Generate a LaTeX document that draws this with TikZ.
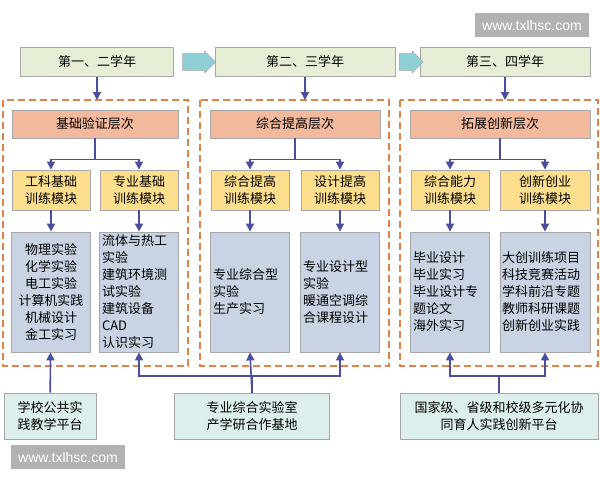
\documentclass[tikz,border=0pt]{standalone}
\usepackage{fontspec}
\setmainfont{Noto Sans CJK SC}
\setsansfont{Liberation Sans}
\usetikzlibrary{arrows.meta,shapes.arrows}
\definecolor{yearfill}{HTML}{E6EED6}
\definecolor{levelfill}{HTML}{F3B99C}
\definecolor{modfill}{HTML}{FCDE8C}
\definecolor{contfill}{HTML}{C9D3E3}
\definecolor{platfill}{HTML}{DCEFEC}
\definecolor{dashcol}{HTML}{E0824A}
\definecolor{arrcol}{HTML}{4A4E9C}
\definecolor{bluearr}{HTML}{8FD0D6}
\tikzset{
  box/.style={draw=gray!70, line width=0.8pt, inner sep=2pt, font=\fontsize{13}{17}\selectfont},
  year/.style={box, fill=yearfill, minimum width=153pt, minimum height=29pt},
  level/.style={box, fill=levelfill, minimum width=166pt, minimum height=28pt},
  module/.style={box, fill=modfill, minimum width=78pt, minimum height=40pt, align=center},
  content/.style={box, fill=contfill, minimum width=79pt, minimum height=120pt, text width=74pt, align=left},
  platform/.style={box, fill=platfill, minimum height=46pt, align=center},
  zone/.style={draw=dashcol, line width=1.5pt, dash pattern=on 7pt off 4pt},
  link/.style={draw=arrcol, line width=1.6pt, -{Triangle[length=8pt,width=8pt]}},
  wire/.style={draw=arrcol, line width=1.6pt},
  wmark/.style={fill=gray!60, text=white, font=\sffamily\fontsize{14}{16}\selectfont, inner sep=7pt}
}
\begin{document}
\begin{tikzpicture}[x=1pt, y=-1pt]
\useasboundingbox (0,0) rectangle (600,480);
% years
\node[year] (y1) at (97,62) {第一、二学年};
\node[year, minimum width=180pt] (y2) at (305,62) {第二、三学年};
\node[year, minimum width=170pt] (y3) at (505,62) {第三、四学年};
\node[single arrow, draw=gray!70, fill=bluearr, minimum height=33pt, minimum width=22pt,
      single arrow head extend=1pt, inner sep=3pt] (a1) at (195,62) {};
\node[single arrow, draw=gray!70, fill=bluearr, minimum height=24pt, minimum width=22pt,
      single arrow head extend=1pt, inner sep=3pt] (a2) at (407,62) {};
% zones
\draw[zone] (3,100) rectangle (188,366);
\draw[zone] (200,100) rectangle (389,366);
\draw[zone] (400,100) rectangle (598,366);
% levels
\node[level] (l1) at (95,124) {基础验证层次};
\node[level, minimum width=170pt] (l2) at (295,124) {综合提高层次};
\node[level, minimum width=180pt] (l3) at (500,124) {拓展创新层次};
% modules
\node[module] (m1) at (51,190) {工科基础\\训练模块};
\node[module] (m2) at (139,190) {专业基础\\训练模块};
\node[module] (m3) at (250,190) {综合提高\\训练模块};
\node[module] (m4) at (340,190) {设计提高\\训练模块};
\node[module] (m5) at (450,190) {综合能力\\训练模块};
\node[module, minimum width=90pt] (m6) at (545,190) {创新创业\\训练模块};
% contents
\node[content, align=center] (c1) at (51,292) {物理实验\\化学实验\\电工实验\\计算机实践\\机械设计\\金工实习};
\node[content] (c2) at (139,292) {流体与热工\\实验\\建筑环境测\\试实验\\建筑设备\\CAD\\认识实习};
\node[content] (c3) at (250,292) {专业综合型\\实验\\生产实习};
\node[content] (c4) at (340,292) {专业设计型\\实验\\暖通空调综\\合课程设计};
\node[content] (c5) at (450,292) {毕业设计\\毕业实习\\毕业设计专\\题论文\\海外实习};
\node[content, minimum width=90pt, text width=86pt] (c6) at (545,292) {大创训练项目\\科技竞赛活动\\学科前沿专题\\教师科研课题\\创新创业实践};
% platforms
\node[platform, minimum width=92pt] (p1) at (50,416) {学校公共实\\践教学平台};
\node[platform, minimum width=155pt] (p2) at (252,416) {专业综合实验室\\产学研合作基地};
\node[platform, minimum width=198pt] (p3) at (499,416) {国家级、省级和校级多元化协\\同育人实践创新平台};
% links
\draw[link] (y1) -- (97,100);
\draw[link] (y2) -- (y2|-0,100);
\draw[link] (y3) -- (y3|-0,100);
\foreach \l/\a/\b in {l1/m1/m2, l2/m3/m4, l3/m5/m6}{
  \draw[wire] (\l.south) -- ++(0,21);
  \draw[link] (\l.south) ++(0,21) -| (\a.north);
  \draw[link] (\l.south) ++(0,21) -| (\b.north);
}
\foreach \m/\c in {m1/c1, m2/c2, m3/c3, m4/c4, m5/c5, m6/c6}
  \draw[link] (\m) -- (\c);
\draw[link] (p1) -- (c1);
\draw[wire] (p2.north) -- (p2.north|-0,376);
\draw[link] (p2.north|-0,376) -| (c2.south);
\draw[link] (p2.north|-0,376) -| (c4.south);
\draw[link] (p2.north) -- (c3.south);
\draw[wire] (p3.north) -- (p3.north|-0,376);
\draw[link] (p3.north|-0,376) -| (c5.south);
\draw[link] (p3.north|-0,376) -| (c6.south);
% watermarks
\node[wmark] (w1) at (532,25) {www.txlhsc.com};
\node[wmark] (w2) at (68,457) {www.txlhsc.com};
\end{tikzpicture}
\end{document}
